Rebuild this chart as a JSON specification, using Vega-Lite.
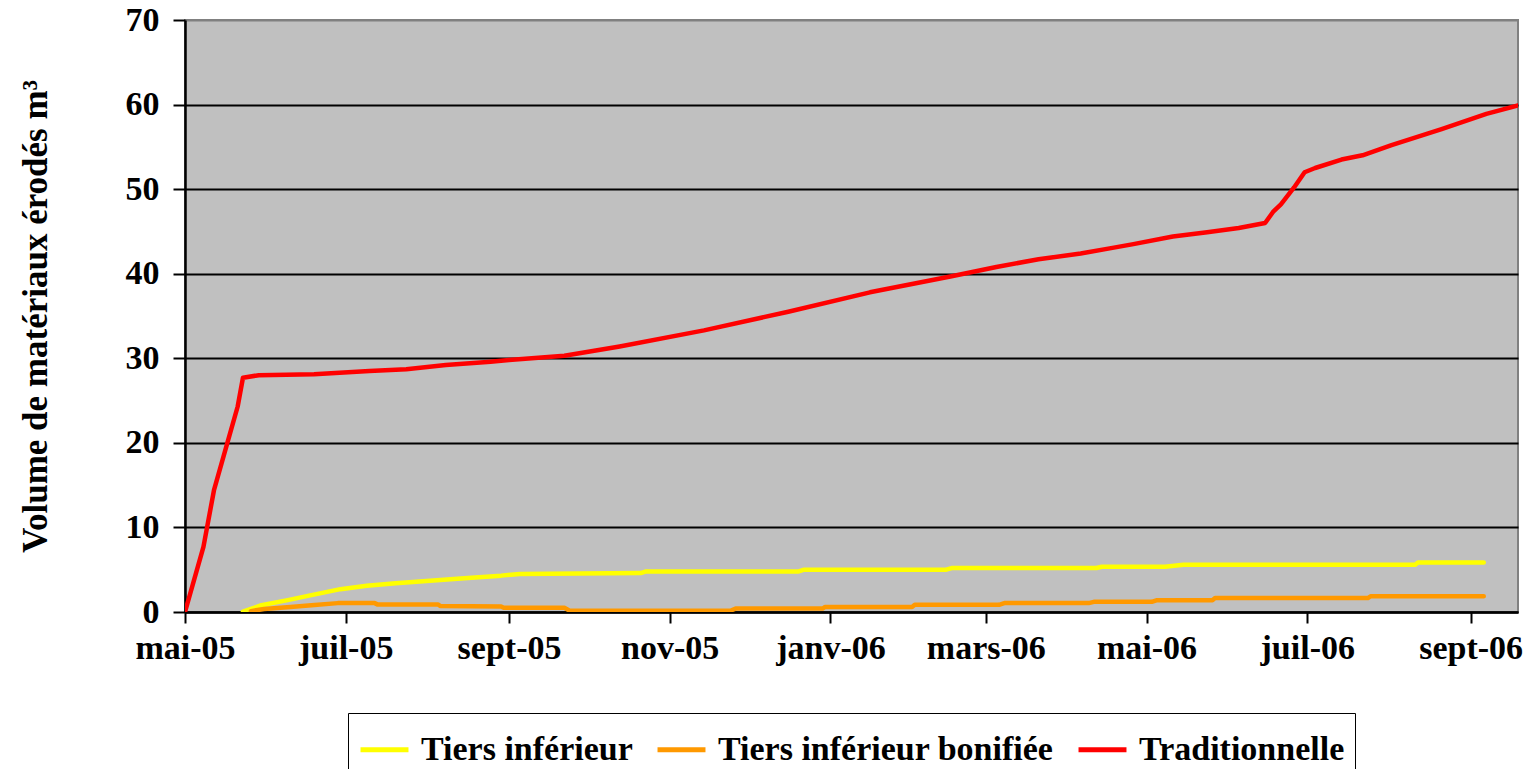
{
  "$schema": "https://vega.github.io/schema/vega-lite/v6.json",
  "width": 1333,
  "height": 592,
  "autosize": {"type": "none"},
  "padding": {"left": 185, "top": 20, "right": 16, "bottom": 157},
  "background": "white",
  "config": {
    "view": {"fill": "#C0C0C0", "stroke": "#808080", "strokeWidth": 2},
    "font": "Liberation Serif"
  },
  "data": {
    "values": [
      {"s": "Tiers inférieur", "d": "2005-05-23", "v": 0.05},
      {"s": "Tiers inférieur", "d": "2005-05-30", "v": 0.8},
      {"s": "Tiers inférieur", "d": "2005-06-09", "v": 1.4},
      {"s": "Tiers inférieur", "d": "2005-06-18", "v": 2.0},
      {"s": "Tiers inférieur", "d": "2005-06-29", "v": 2.7},
      {"s": "Tiers inférieur", "d": "2005-07-09", "v": 3.1},
      {"s": "Tiers inférieur", "d": "2005-07-20", "v": 3.4},
      {"s": "Tiers inférieur", "d": "2005-08-02", "v": 3.7},
      {"s": "Tiers inférieur", "d": "2005-08-15", "v": 4.0},
      {"s": "Tiers inférieur", "d": "2005-08-29", "v": 4.3},
      {"s": "Tiers inférieur", "d": "2005-09-05", "v": 4.5},
      {"s": "Tiers inférieur", "d": "2005-10-21", "v": 4.6},
      {"s": "Tiers inférieur", "d": "2005-10-23", "v": 4.8},
      {"s": "Tiers inférieur", "d": "2005-12-20", "v": 4.8},
      {"s": "Tiers inférieur", "d": "2005-12-22", "v": 5.0},
      {"s": "Tiers inférieur", "d": "2006-02-14", "v": 5.0},
      {"s": "Tiers inférieur", "d": "2006-02-16", "v": 5.2},
      {"s": "Tiers inférieur", "d": "2006-04-12", "v": 5.2},
      {"s": "Tiers inférieur", "d": "2006-04-14", "v": 5.35},
      {"s": "Tiers inférieur", "d": "2006-05-08", "v": 5.35},
      {"s": "Tiers inférieur", "d": "2006-05-15", "v": 5.6},
      {"s": "Tiers inférieur", "d": "2006-08-11", "v": 5.6},
      {"s": "Tiers inférieur", "d": "2006-08-12", "v": 5.85},
      {"s": "Tiers inférieur", "d": "2006-09-06", "v": 5.85},

      {"s": "Tiers inférieur bonifiée", "d": "2005-05-26", "v": 0.1},
      {"s": "Tiers inférieur bonifiée", "d": "2005-05-31", "v": 0.35},
      {"s": "Tiers inférieur bonifiée", "d": "2005-06-10", "v": 0.6},
      {"s": "Tiers inférieur bonifiée", "d": "2005-06-18", "v": 0.8},
      {"s": "Tiers inférieur bonifiée", "d": "2005-06-28", "v": 1.05},
      {"s": "Tiers inférieur bonifiée", "d": "2005-07-12", "v": 1.05},
      {"s": "Tiers inférieur bonifiée", "d": "2005-07-13", "v": 0.9},
      {"s": "Tiers inférieur bonifiée", "d": "2005-08-05", "v": 0.9},
      {"s": "Tiers inférieur bonifiée", "d": "2005-08-06", "v": 0.7},
      {"s": "Tiers inférieur bonifiée", "d": "2005-08-29", "v": 0.65},
      {"s": "Tiers inférieur bonifiée", "d": "2005-08-30", "v": 0.5},
      {"s": "Tiers inférieur bonifiée", "d": "2005-09-22", "v": 0.5},
      {"s": "Tiers inférieur bonifiée", "d": "2005-09-24", "v": 0.15},
      {"s": "Tiers inférieur bonifiée", "d": "2005-11-24", "v": 0.15},
      {"s": "Tiers inférieur bonifiée", "d": "2005-11-26", "v": 0.4},
      {"s": "Tiers inférieur bonifiée", "d": "2005-12-29", "v": 0.4},
      {"s": "Tiers inférieur bonifiée", "d": "2005-12-30", "v": 0.6},
      {"s": "Tiers inférieur bonifiée", "d": "2006-02-01", "v": 0.6},
      {"s": "Tiers inférieur bonifiée", "d": "2006-02-02", "v": 0.85},
      {"s": "Tiers inférieur bonifiée", "d": "2006-03-06", "v": 0.85},
      {"s": "Tiers inférieur bonifiée", "d": "2006-03-08", "v": 1.05},
      {"s": "Tiers inférieur bonifiée", "d": "2006-04-09", "v": 1.05},
      {"s": "Tiers inférieur bonifiée", "d": "2006-04-11", "v": 1.2},
      {"s": "Tiers inférieur bonifiée", "d": "2006-05-03", "v": 1.2},
      {"s": "Tiers inférieur bonifiée", "d": "2006-05-05", "v": 1.4},
      {"s": "Tiers inférieur bonifiée", "d": "2006-05-26", "v": 1.4},
      {"s": "Tiers inférieur bonifiée", "d": "2006-05-27", "v": 1.65},
      {"s": "Tiers inférieur bonifiée", "d": "2006-07-24", "v": 1.65},
      {"s": "Tiers inférieur bonifiée", "d": "2006-07-25", "v": 1.85},
      {"s": "Tiers inférieur bonifiée", "d": "2006-09-06", "v": 1.85},

      {"s": "Traditionnelle", "d": "2005-05-01", "v": 0},
      {"s": "Traditionnelle", "d": "2005-05-08", "v": 7.7},
      {"s": "Traditionnelle", "d": "2005-05-12", "v": 14.4},
      {"s": "Traditionnelle", "d": "2005-05-17", "v": 19.9},
      {"s": "Traditionnelle", "d": "2005-05-21", "v": 24.3},
      {"s": "Traditionnelle", "d": "2005-05-23", "v": 27.7},
      {"s": "Traditionnelle", "d": "2005-05-29", "v": 28.0},
      {"s": "Traditionnelle", "d": "2005-06-19", "v": 28.1},
      {"s": "Traditionnelle", "d": "2005-07-10", "v": 28.5},
      {"s": "Traditionnelle", "d": "2005-07-24", "v": 28.7},
      {"s": "Traditionnelle", "d": "2005-08-08", "v": 29.2},
      {"s": "Traditionnelle", "d": "2005-08-25", "v": 29.6},
      {"s": "Traditionnelle", "d": "2005-09-01", "v": 29.8},
      {"s": "Traditionnelle", "d": "2005-09-22", "v": 30.3},
      {"s": "Traditionnelle", "d": "2005-10-13", "v": 31.4},
      {"s": "Traditionnelle", "d": "2005-11-14", "v": 33.3},
      {"s": "Traditionnelle", "d": "2005-12-16", "v": 35.5},
      {"s": "Traditionnelle", "d": "2006-01-16", "v": 37.8},
      {"s": "Traditionnelle", "d": "2006-02-16", "v": 39.7},
      {"s": "Traditionnelle", "d": "2006-03-05", "v": 40.8},
      {"s": "Traditionnelle", "d": "2006-03-21", "v": 41.7},
      {"s": "Traditionnelle", "d": "2006-04-06", "v": 42.4},
      {"s": "Traditionnelle", "d": "2006-04-17", "v": 43.0},
      {"s": "Traditionnelle", "d": "2006-04-26", "v": 43.5},
      {"s": "Traditionnelle", "d": "2006-05-11", "v": 44.4},
      {"s": "Traditionnelle", "d": "2006-05-24", "v": 44.9},
      {"s": "Traditionnelle", "d": "2006-06-05", "v": 45.4},
      {"s": "Traditionnelle", "d": "2006-06-15", "v": 46.0},
      {"s": "Traditionnelle", "d": "2006-06-18", "v": 47.3},
      {"s": "Traditionnelle", "d": "2006-06-21", "v": 48.2},
      {"s": "Traditionnelle", "d": "2006-06-26", "v": 50.2},
      {"s": "Traditionnelle", "d": "2006-06-30", "v": 52.0},
      {"s": "Traditionnelle", "d": "2006-07-04", "v": 52.5},
      {"s": "Traditionnelle", "d": "2006-07-14", "v": 53.5},
      {"s": "Traditionnelle", "d": "2006-07-22", "v": 54.0},
      {"s": "Traditionnelle", "d": "2006-08-02", "v": 55.2},
      {"s": "Traditionnelle", "d": "2006-08-21", "v": 57.1},
      {"s": "Traditionnelle", "d": "2006-09-07", "v": 58.9},
      {"s": "Traditionnelle", "d": "2006-09-19", "v": 59.9}
    ]
  },
  "mark": {"type": "line", "strokeWidth": 4.5, "strokeCap": "round", "strokeJoin": "round", "clip": true},
  "encoding": {
    "x": {
      "field": "d",
      "type": "temporal",
      "scale": {
        "type": "utc",
        "domain": [
          {"year": 2005, "month": 5, "date": 1, "utc": true},
          {"year": 2006, "month": 9, "date": 19, "utc": true}
        ]
      },
      "axis": {
        "title": null,
        "grid": false,
        "values": [
          {"year": 2005, "month": 5, "date": 1, "utc": true},
          {"year": 2005, "month": 7, "date": 1, "utc": true},
          {"year": 2005, "month": 9, "date": 1, "utc": true},
          {"year": 2005, "month": 11, "date": 1, "utc": true},
          {"year": 2006, "month": 1, "date": 1, "utc": true},
          {"year": 2006, "month": 3, "date": 1, "utc": true},
          {"year": 2006, "month": 5, "date": 1, "utc": true},
          {"year": 2006, "month": 7, "date": 1, "utc": true},
          {"year": 2006, "month": 9, "date": 1, "utc": true}
        ],
        "labelExpr": "['janv','févr','mars','avr','mai','juin','juil','août','sept','oct','nov','déc'][utcmonth(datum.value)] + '-' + utcFormat(datum.value, '%y')",
        "labelFont": "Liberation Serif",
        "labelFontWeight": "bold",
        "labelFontSize": 34,
        "labelColor": "black",
        "labelPadding": 8,
        "labelFlush": false,
        "labelOverlap": false,
        "tickColor": "black",
        "tickWidth": 2,
        "tickSize": 11,
        "domainColor": "black",
        "domainWidth": 2.5
      }
    },
    "y": {
      "field": "v",
      "type": "quantitative",
      "scale": {"domain": [0, 70], "nice": false},
      "axis": {
        "values": [0, 10, 20, 30, 40, 50, 60, 70],
        "title": "Volume de matériaux érodés m³",
        "titleFont": "Liberation Serif",
        "titleFontWeight": "bold",
        "titleFontSize": 35,
        "titleColor": "black",
        "titlePadding": 72,
        "labelFont": "Liberation Serif",
        "labelFontWeight": "bold",
        "labelFontSize": 34,
        "labelColor": "black",
        "labelPadding": 14,
        "labelFlush": false,
        "tickColor": "black",
        "tickWidth": 2,
        "tickSize": 12,
        "domainColor": "black",
        "domainWidth": 2.5,
        "grid": true,
        "gridColor": {"condition": {"test": "datum.value === 70", "value": "#808080"}, "value": "black"},
        "gridWidth": 2
      }
    },
    "color": {
      "field": "s",
      "type": "nominal",
      "scale": {
        "domain": ["Tiers inférieur", "Tiers inférieur bonifiée", "Traditionnelle"],
        "range": ["#FFFF00", "#FF9900", "#FF0000"]
      },
      "legend": {
        "title": null,
        "orient": "none",
        "legendX": 163,
        "legendY": 693,
        "direction": "horizontal",
        "columns": 3,
        "symbolType": "stroke",
        "symbolStrokeWidth": 5,
        "symbolSize": 2300,
        "labelFont": "Liberation Serif",
        "labelFontWeight": "bold",
        "labelFontSize": 34,
        "labelColor": "black",
        "labelLimit": 800,
        "labelOffset": 10,
        "columnPadding": 14,
        "padding": 10,
        "strokeColor": "black",
        "fillColor": "white"
      }
    }
  }
}
